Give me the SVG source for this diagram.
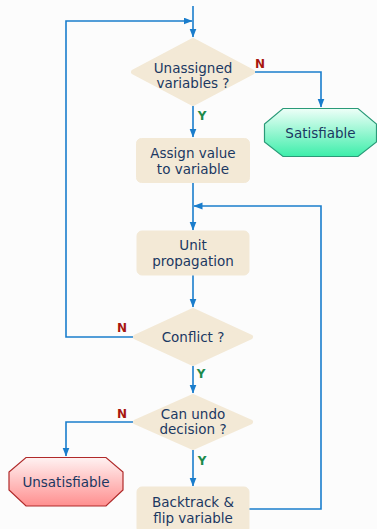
<svg xmlns="http://www.w3.org/2000/svg" width="377" height="529" viewBox="0 0 377 529">
<defs>
<style>
.t{font-family:"DejaVu Sans","Liberation Sans",sans-serif;font-size:13.5px;fill:#1b3862;text-anchor:middle}
.box{fill:#f3e9d6;stroke:#f3e9d6;stroke-width:1}
.dia{fill:#f3e9d6;stroke:#f3e9d6;stroke-width:5;stroke-linejoin:round}
.c{fill:none;stroke:#1a7dcc;stroke-width:1.6}
.n{font-family:"DejaVu Sans","Liberation Sans",sans-serif;font-size:12px;font-weight:bold;fill:#a8160f;text-anchor:middle}
.y{font-family:"DejaVu Sans","Liberation Sans",sans-serif;font-size:12px;font-weight:bold;fill:#1d8a4a;text-anchor:middle}
</style>
<marker id="ah" markerWidth="9" markerHeight="8" refX="8.5" refY="3.5" orient="auto" markerUnits="userSpaceOnUse">
<path d="M0,0 L9,3.5 L0,7 z" fill="#1a7dcc"/>
</marker>
<linearGradient id="gs" x1="0" y1="0" x2="0" y2="1">
<stop offset="0" stop-color="#eefff8"/>
<stop offset="1" stop-color="#3deeaa"/>
</linearGradient>
<linearGradient id="gu" x1="0" y1="0" x2="0" y2="1">
<stop offset="0" stop-color="#fff2f2"/>
<stop offset="1" stop-color="#ff8f8f"/>
</linearGradient>
</defs>
<rect width="377" height="529" fill="#fcfcfc"/>
<g id="connectors">
<path class="c" d="M193,6 V37" marker-end="url(#ah)"/>
<path class="c" d="M133,337 H66 V21 H192" marker-end="url(#ah)"/>
<path class="c" d="M255,72 H321 V107" marker-end="url(#ah)"/>
<path class="c" d="M193,106 V137" marker-end="url(#ah)"/>
<path class="c" d="M193,183 V230" marker-end="url(#ah)"/>
<path class="c" d="M249,509 H321 V206 H194" marker-end="url(#ah)"/>
<path class="c" d="M193,275 V307" marker-end="url(#ah)"/>
<path class="c" d="M193,366 V393" marker-end="url(#ah)"/>
<path class="c" d="M133,422 H66 V456" marker-end="url(#ah)"/>
<path class="c" d="M193,450 V486" marker-end="url(#ah)"/>
<text class="n" x="260" y="68">N</text>
<text class="y" x="202" y="120">Y</text>
<text class="n" x="122" y="332">N</text>
<text class="y" x="201" y="378">Y</text>
<text class="n" x="122" y="418">N</text>
<text class="y" x="202" y="465">Y</text>
</g>
<g id="unassigned">
<polygon class="dia" points="193,40.5 252.5,72 193,103.5 133.5,72"/>
<text class="t" x="193" y="73">Unassigned</text>
<text class="t" x="193" y="88">variables ?</text>
</g>
<g id="satisfiable">
<polygon points="283,108.5 358,108.5 376.5,124 376.5,142 358,156.5 283,156.5 264.5,142 264.5,124" fill="url(#gs)" stroke="#2a9a78" stroke-width="1.2"/>
<text class="t" x="320.5" y="137.5">Satisfiable</text>
</g>
<g id="assign">
<rect class="box" x="136.5" y="138.5" width="113" height="44" rx="5"/>
<text class="t" x="193" y="158">Assign value</text>
<text class="t" x="193" y="174">to variable</text>
</g>
<g id="unitprop">
<rect class="box" x="137" y="231" width="112" height="44" rx="5"/>
<text class="t" x="193" y="250">Unit</text>
<text class="t" x="193" y="266">propagation</text>
</g>
<g id="conflict">
<polygon class="dia" points="193,310.5 250.5,337 193,363.5 135.5,337"/>
<text class="t" x="193" y="342">Conflict ?</text>
</g>
<g id="canundo">
<polygon class="dia" points="193,396.5 250.5,422 193,447.5 135.5,422"/>
<text class="t" x="193" y="419">Can undo</text>
<text class="t" x="193" y="434">decision ?</text>
</g>
<g id="unsatisfiable">
<polygon points="26,457.5 106,457.5 123,472 123,490 106,506 26,506 9,490 9,472" fill="url(#gu)" stroke="#b02a2a" stroke-width="1.2"/>
<text class="t" x="66" y="487">Unsatisfiable</text>
</g>
<g id="backtrack">
<rect class="box" x="137" y="487" width="112" height="46" rx="5"/>
<text class="t" x="193" y="507">Backtrack &amp;</text>
<text class="t" x="193" y="523">flip variable</text>
</g>
</svg>
